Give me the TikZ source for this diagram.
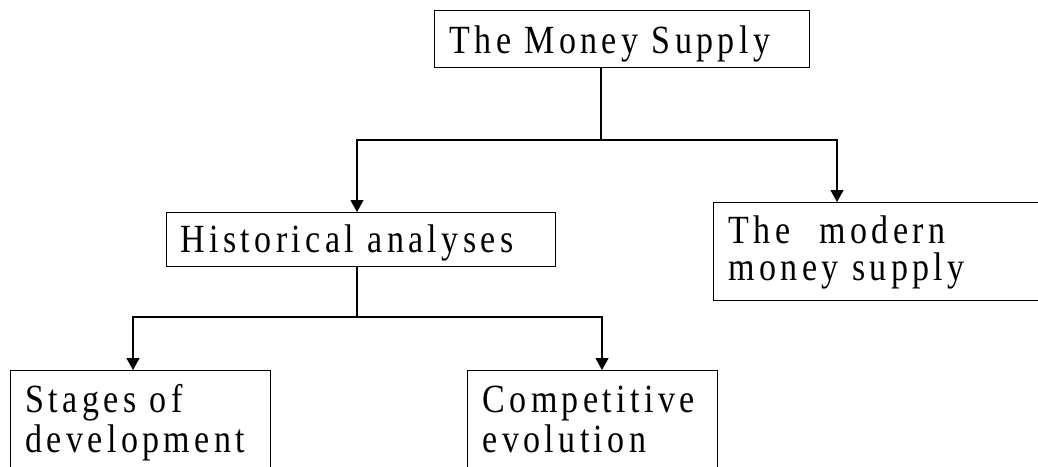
\documentclass[tikz,border=0pt]{standalone}
\usepackage{fontspec}
\newfontfamily\chartfont[FakeStretch=0.85, LetterSpace=11]{Liberation Serif}
\usetikzlibrary{arrows.meta}
\hyphenpenalty=10000
\exhyphenpenalty=10000

\begin{document}
\begin{tikzpicture}[
    x=1pt, y=-1pt, % pixel units, y going down
    box/.style={rectangle, draw, line width=1.1pt, anchor=north west, align=left, inner xsep=15pt, inner ysep=0pt, font=\chartfont\fontsize{40}{40}\selectfont},
    arrow/.style={-{Triangle[width=13pt,length=12pt]}, line width=1.1pt},
    link/.style={line width=1.1pt}
]

\useasboundingbox (0,0) rectangle (1038,466);
\clip (0,0) rectangle (1038,466);

% Top node
\node (money_supply) at (434,10) [box, text width=345pt, text height=43pt, text depth=14pt] {The Money Supply};

% Second level
\node (historical) at (166,212) [box, inner xsep=14pt, text width=361pt, text height=40pt, text depth=14pt] {Historical analyses};
\node (modern) at (713,202) [box, text width=307pt, text height=41pt, text depth=57pt, font=\chartfont\fontsize{40}{37}\selectfont] {The\hspace{16pt} modern\\money supply};

% Third level
\node (stages) at (10,370) [box, text width=230pt, text height=42pt, text depth=68pt] {Stages of\\development};
\node (competitive) at (467,370) [box, text width=220pt, text height=42pt, text depth=68pt] {Competitive\\evolution};

% Branch points
\coordinate (split_top) at (601,140);
\coordinate (split_hist) at (357,317);

% Connections
\draw [link] (money_supply.south -| split_top) -- (split_top);
\draw [arrow] (split_top) -| ([xshift=191pt]historical.north west);
\draw [arrow] (split_top) -| ([xshift=124pt]modern.north west);

\draw [link] (historical.south -| split_hist) -- (split_hist);
\draw [arrow] (split_hist) -| ([xshift=123pt]stages.north west);
\draw [arrow] (split_hist) -| ([xshift=135pt]competitive.north west);

\end{tikzpicture}
\end{document}
